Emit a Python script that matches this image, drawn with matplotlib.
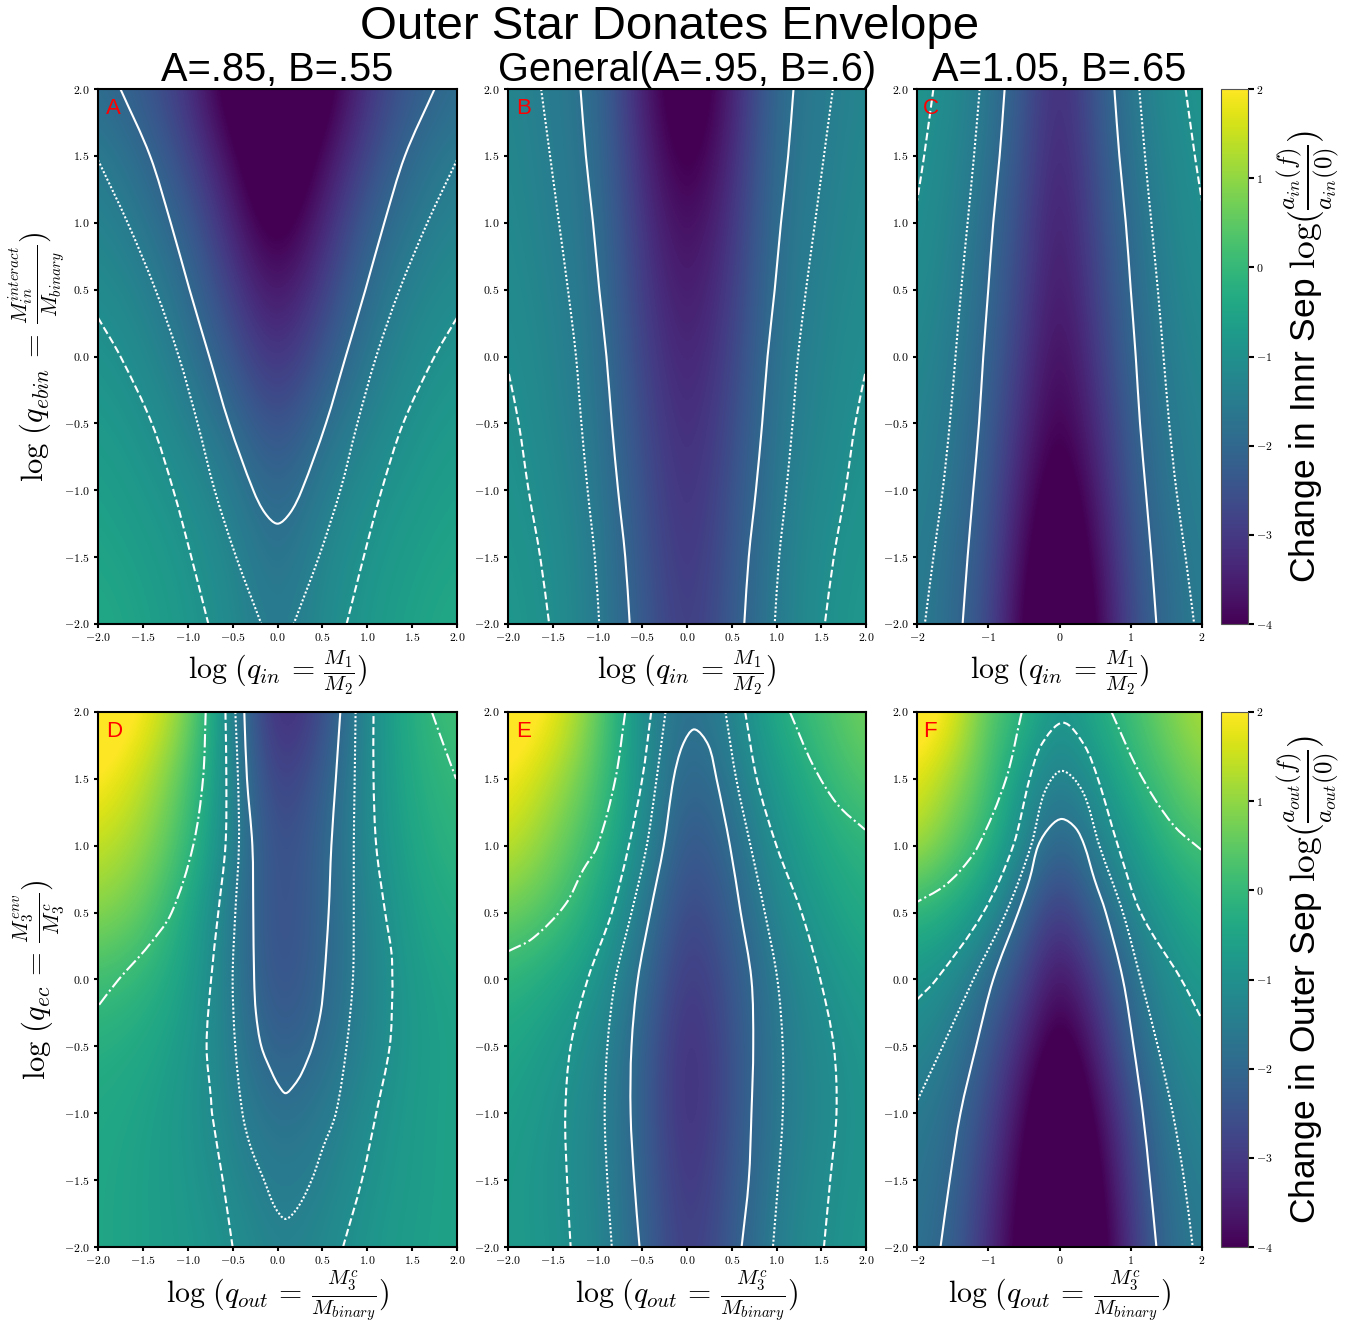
import numpy as np
import matplotlib
matplotlib.use("Agg")
import matplotlib.pyplot as plt
from matplotlib.cm import ScalarMappable
from matplotlib.colors import Normalize
from matplotlib.patches import PathPatch
from matplotlib.path import Path

plt.rcParams['font.family'] = ['Liberation Sans', 'DejaVu Sans']
plt.rcParams['mathtext.fontset'] = 'cm'

W, H = 1352, 1325

y_ticks = [-2.0, -1.5, -1.0, -0.5, 0.0, 0.5, 1.0, 1.5, 2.0]
fine_labels = ['$-2.0$', '$-1.5$', '$-1.0$', '$-0.5$', '$0.0$', '$0.5$', '$1.0$', '$1.5$', '$2.0$']
coarse_ticks = [-2, -1, 0, 1, 2]
coarse_labels = ['$-2$', '$-1$', '$0$', '$1$', '$2$']
cbar_ticks = [-4, -3, -2, -1, 0, 1, 2]
cbar_labels = ['$-4$', '$-3$', '$-2$', '$-1$', '$0$', '$1$', '$2$']

# heat values, rows run y=2 -> y=-2, columns x=-2 -> x=0 (top row panels are mirrored)
a_half = [[-1.85, -2.3, -3.1, -4.5, -5.0],
          [-1.5, -1.9, -2.7, -3.9, -4.9],
          [-1.3, -1.6, -2.2, -3.4, -4.5],
          [-1.1, -1.35, -1.85, -2.9, -3.85],
          [-0.9, -1.15, -1.6, -2.4, -3.3],
          [-0.75, -0.95, -1.35, -1.85, -2.7],
          [-0.6, -0.8, -1.05, -1.5, -2.15],
          [-0.5, -0.65, -0.9, -1.25, -1.85],
          [-0.4, -0.55, -0.8, -1.15, -1.65]]
b_half = [[-1.25, -1.52, -1.85, -3.5, -4.7],
          [-1.2, -1.47, -1.8, -3.3, -4.4],
          [-1.15, -1.42, -1.75, -3.1, -4.0],
          [-1.1, -1.35, -1.7, -2.95, -3.75],
          [-1.03, -1.3, -1.65, -2.8, -3.55],
          [-0.95, -1.25, -1.6, -2.65, -3.4],
          [-0.9, -1.15, -1.55, -2.5, -3.3],
          [-0.85, -1.05, -1.5, -2.4, -3.2],
          [-0.8, -1.0, -1.5, -2.3, -3.1]]
c_half = [[-0.85, -1.15, -1.6, -2.4, -3.4],
          [-0.95, -1.25, -1.7, -2.55, -3.5],
          [-1.02, -1.32, -1.85, -2.7, -3.65],
          [-1.1, -1.4, -1.95, -2.85, -3.75],
          [-1.2, -1.5, -2.05, -3.05, -3.95],
          [-1.28, -1.6, -2.2, -3.3, -4.15],
          [-1.35, -1.7, -2.35, -3.6, -4.5],
          [-1.43, -1.85, -2.5, -3.9, -4.8],
          [-1.5, -1.9, -2.65, -4.15, -5.0]]
# bottom row is not symmetric, columns x=-2 -> x=2
d_vals = [[2.5, 2.1, 0.9, -1.35, -3.6, -2.7, -1.15, -0.2, 0.2],
          [2.1, 1.45, 0.35, -1.25, -3.1, -2.25, -1.15, -0.3, 0.0],
          [1.5, 1.05, 0.1, -1.35, -2.75, -2.1, -1.15, -0.45, -0.1],
          [0.95, 0.55, -0.4, -1.55, -2.7, -2.1, -1.3, -0.6, -0.3],
          [0.15, -0.05, -0.6, -1.5, -2.65, -2.05, -1.35, -0.7, -0.5],
          [-0.25, -0.4, -0.75, -1.45, -2.3, -1.9, -1.3, -0.75, -0.55],
          [-0.4, -0.55, -0.85, -1.35, -1.85, -1.6, -1.1, -0.7, -0.55],
          [-0.45, -0.6, -0.8, -1.2, -1.6, -1.4, -0.95, -0.7, -0.55],
          [-0.45, -0.6, -0.75, -1.0, -1.4, -1.2, -0.85, -0.65, -0.55]]
e_vals = [[2.5, 2.0, 0.65, -1.15, -1.9, -1.3, -0.3, 0.25, 0.75],
          [2.0, 1.3, 0.35, -1.0, -2.2, -1.6, -0.7, -0.1, 0.45],
          [1.5, 0.8, 0.0, -1.1, -2.6, -1.9, -1.0, -0.4, -0.1],
          [0.7, 0.3, -0.4, -1.55, -2.9, -2.2, -1.25, -0.7, -0.3],
          [-0.1, -0.4, -0.85, -1.85, -3.2, -2.4, -1.5, -1.0, -0.6],
          [-0.45, -0.75, -1.15, -2.1, -3.4, -2.5, -1.55, -1.15, -0.8],
          [-0.6, -0.9, -1.25, -2.15, -3.4, -2.5, -1.55, -1.2, -0.85],
          [-0.7, -0.95, -1.25, -2.1, -3.25, -2.4, -1.5, -1.1, -0.85],
          [-0.7, -0.9, -1.2, -2.05, -3.1, -2.3, -1.4, -1.05, -0.8]]
f_vals = [[2.5, 1.9, 0.45, -0.05, -0.95, -0.35, 0.15, 0.8, 1.3],
          [1.8, 1.1, 0.3, -0.9, -1.45, -0.95, -0.2, 0.3, 0.85],
          [1.25, 0.55, -0.1, -1.2, -2.2, -1.45, -0.8, -0.1, 0.2],
          [-0.1, -0.35, -0.95, -2.15, -3.1, -2.15, -1.3, -0.75, -0.3],
          [-0.85, -1.15, -1.9, -2.75, -3.9, -2.9, -1.85, -1.1, -0.75],
          [-1.2, -1.6, -2.35, -3.4, -4.5, -3.5, -2.1, -1.35, -1.05],
          [-1.55, -1.85, -2.7, -3.9, -5.0, -4.0, -2.6, -1.6, -1.25],
          [-1.65, -2.0, -3.0, -4.2, -5.0, -4.4, -2.85, -1.8, -1.4],
          [-1.75, -2.15, -3.2, -4.4, -5.0, -4.6, -3.1, -1.9, -1.55]]

# contour lines, x then y
a_solid_x = [-1.75, -1.42, -1.19, -0.98, -0.76, -0.54, -0.27, -0.14, 0.0]
a_solid_y = [2.0, 1.5, 1.0, 0.5, 0.0, -0.5, -1.0, -1.17, -1.25]
a_dot_x = [-2.0, -1.67, -1.36, -1.1, -0.89, -0.7, -0.46, -0.18]
a_dot_y = [1.47, 1.0, 0.5, 0.0, -0.5, -1.0, -1.5, -2.0]
a_dash_x = [-2.0, -1.75, -1.4, -1.16, -0.96, -0.77]
a_dash_y = [0.29, 0.0, -0.5, -1.0, -1.5, -2.0]

row_y = [2.0, 1.5, 1.0, 0.5, 0.0, -0.5, -1.0, -1.5, -2.0]
b_solid_x = [-1.19, -1.13, -1.05, -0.98, -0.9, -0.84, -0.77, -0.69, -0.64]
b_dot_x = [-1.63, -1.53, -1.43, -1.33, -1.24, -1.18, -1.11, -1.03, -0.98]
b_dash_x = [-1.99, -1.88, -1.77, -1.64, -1.54]
b_dash_y = [-0.13, -0.5, -1.0, -1.5, -2.0]
c_solid_x = [-0.77, -0.84, -0.93, -1.0, -1.07, -1.13, -1.21, -1.29, -1.36]
c_dot_x = [-1.12, -1.2, -1.29, -1.38, -1.46, -1.54, -1.64, -1.77, -1.89]
c_dash_x = [-1.77, -1.9, -2.0]
c_dash_y = [2.0, 1.5, 1.16]

d_solid_x = [-0.37, -0.34, -0.28, -0.27, -0.26, -0.24, -0.18, -0.06, 0.01, 0.09, 0.185, 0.27, 0.39, 0.48, 0.52, 0.57, 0.6, 0.65, 0.7]
d_solid_y = [2.0, 1.5, 1.0, 0.5, 0.0, -0.25, -0.5, -0.7, -0.79, -0.85, -0.79, -0.7, -0.5, -0.25, 0.0, 0.5, 1.0, 1.5, 2.0]
d_dot_x = [-0.47, -0.44, -0.43, -0.47, -0.5, -0.47, -0.39, -0.3, -0.15, -0.03, 0.09, 0.23, 0.38, 0.51, 0.65, 0.77, 0.84, 0.85, 0.85, 0.86, 0.87]
d_dot_y = [2.0, 1.5, 1.0, 0.5, 0.0, -0.5, -1.0, -1.25, -1.5, -1.7, -1.79, -1.7, -1.5, -1.25, -1.0, -0.5, 0.0, 0.5, 1.0, 1.5, 2.0]
d_dash_lx = [-0.58, -0.57, -0.58, -0.66, -0.74, -0.79, -0.74, -0.73, -0.61, -0.5]
d_dash_ly = [2.0, 1.5, 1.0, 0.5, 0.0, -0.5, -0.9, -1.0, -1.5, -2.0]
d_dash_rx = [0.73, 0.94, 1.1, 1.25, 1.28, 1.28, 1.27, 1.2, 1.1, 1.07, 1.07]
d_dash_ry = [-2.0, -1.5, -1.0, -0.5, -0.1, 0.0, 0.2, 0.5, 1.0, 1.5, 2.0]
d_dd_lx = [-0.8, -0.83, -0.94, -1.18, -1.44, -1.77, -2.0]
d_dd_ly = [2.0, 1.5, 1.0, 0.5, 0.25, 0.0, -0.2]
d_dd_rx = [1.72, 1.81, 1.99]
d_dd_ry = [2.0, 1.83, 1.5]

e_solid_x = [-0.53, -0.59, -0.63, -0.62, -0.55, -0.41, -0.26, -0.15, -0.05, 0.08, 0.24, 0.33, 0.48, 0.6, 0.72, 0.74, 0.72, 0.69, 0.61]
e_solid_y = [-2.0, -1.5, -1.0, -0.5, 0.0, 0.5, 1.0, 1.5, 1.75, 1.87, 1.75, 1.5, 1.0, 0.5, 0.0, -0.5, -1.0, -1.5, -2.0]
e_dot_lx = [-0.24, -0.34, -0.45, -0.62, -0.8, -0.89, -0.92, -0.89, -0.84]
e_dot_rx = [0.43, 0.55, 0.71, 0.87, 1.01, 1.07, 1.07, 1.02, 0.96]
e_dash_lx = [-0.4, -0.5, -0.65, -0.84, -1.11, -1.3, -1.36, -1.34, -1.3]
e_dash_rx = [0.65, 0.78, 1.0, 1.28, 1.49, 1.64, 1.67, 1.6, 1.53]
e_dd_lx = [-0.69, -0.8, -1.0, -1.16, -1.36, -1.72, -2.0]
e_dd_ly = [2.0, 1.5, 1.0, 0.82, 0.56, 0.31, 0.21]
e_dd_rx = [1.15, 1.41, 1.68, 1.99]
e_dd_ry = [2.0, 1.6, 1.31, 1.12]

f_solid_x = [-1.67, -1.54, -1.39, -1.17, -0.93, -0.58, -0.42, -0.3, -0.12, 0.04, 0.23, 0.35, 0.49, 0.65, 0.89, 1.04, 1.17, 1.27, 1.36]
f_solid_y = [-2.0, -1.5, -1.0, -0.5, 0.0, 0.5, 0.75, 1.0, 1.15, 1.2, 1.13, 1.0, 0.75, 0.5, 0.0, -0.5, -1.0, -1.5, -2.0]
f_dot_x = [-1.99, -1.64, -1.21, -0.75, -0.4, -0.21, 0.03, 0.33, 0.56, 0.89, 1.14, 1.38, 1.59, 1.75, 1.87]
f_dot_y = [-0.9, -0.5, 0.0, 0.5, 1.0, 1.4, 1.56, 1.4, 1.0, 0.5, 0.0, -0.5, -1.0, -1.5, -2.0]
f_dash_x = [-2.0, -1.73, -1.07, -0.65, -0.42, -0.26, 0.05, 0.35, 0.54, 0.82, 1.14, 1.71, 1.99]
f_dash_y = [-0.15, 0.0, 0.5, 1.0, 1.5, 1.75, 1.92, 1.75, 1.5, 1.0, 0.5, 0.0, -0.29]
f_dd_lx = [-0.53, -0.75, -1.14, -1.4, -1.64, -2.0]
f_dd_ly = [2.0, 1.5, 1.0, 0.81, 0.69, 0.58]
f_dd_rx = [0.73, 1.07, 1.36, 1.64, 1.99]
f_dd_ry = [2.0, 1.6, 1.33, 1.13, 0.97]


def px_axes(fig, left, top, right, bottom):
    return fig.add_axes([left / W, 1 - bottom / H, (right - left) / W, (bottom - top) / H])


def mirror(half):
    half = np.array(half)
    return np.hstack([half, half[:, -2::-1]])


def draw_panel(ax, vals, letter, title=None, coarse=False):
    ax.imshow(vals, cmap="viridis", vmin=-4, vmax=2, aspect="auto",
              extent=[-2.25, 2.25, -2.25, 2.25], interpolation="bicubic")
    ax.set_xlim(-2, 2)
    ax.set_ylim(-2, 2)
    ax.set_yticks(y_ticks)
    ax.set_yticklabels(fine_labels)
    if coarse:
        ax.set_xticks(coarse_ticks)
        ax.set_xticklabels(coarse_labels)
    else:
        ax.set_xticks(y_ticks)
        ax.set_xticklabels(fine_labels)
    ax.tick_params(labelsize=8.5, width=1.5, length=3, pad=3)
    for s in ax.spines.values():
        s.set_linewidth(1.5)
    ax.text(0.022, 0.963, letter, color="red", fontsize=16, transform=ax.transAxes,
            ha="left", va="center")
    if title:
        ax.set_title(title, fontsize=28.6, pad=4)


def contour_line(ax, xs, ys, ls):
    # smooth curve through the read vertices, as bezier segments
    pts = np.column_stack([xs, ys]).astype(float)
    d = np.maximum(np.hypot(*np.diff(pts, axis=0).T), 1e-6)
    tan = np.zeros_like(pts)
    tan[1:-1] = (pts[2:] - pts[:-2]) / (d[1:] + d[:-1])[:, None]
    tan[0] = (pts[1] - pts[0]) / d[0]
    tan[-1] = (pts[-1] - pts[-2]) / d[-1]
    verts = [pts[0]]
    for i in range(len(d)):
        verts += [pts[i] + tan[i] * d[i] / 3, pts[i + 1] - tan[i + 1] * d[i] / 3, pts[i + 1]]
    codes = [Path.MOVETO] + [Path.CURVE4] * (len(verts) - 1)
    ax.add_patch(PathPatch(Path(verts, codes), fill=False, edgecolor="white", lw=1.5, ls=ls))


DOT = (0, (1, 1))

fig = plt.figure(figsize=(W / 100, H / 100), dpi=100)

ax_a = px_axes(fig, 98, 89, 457, 624)
ax_b = px_axes(fig, 508, 89, 866, 624)
ax_c = px_axes(fig, 917, 89, 1202, 624)
ax_d = px_axes(fig, 98, 712, 457, 1247)
ax_e = px_axes(fig, 508, 712, 866, 1247)
ax_f = px_axes(fig, 917, 712, 1202, 1247)

draw_panel(ax_a, mirror(a_half), "A", "A=.85, B=.55")
draw_panel(ax_b, mirror(b_half), "B", "General(A=.95, B=.6)")
draw_panel(ax_c, mirror(c_half), "C", "A=1.05, B=.65", coarse=True)
draw_panel(ax_d, np.array(d_vals), "D")
draw_panel(ax_e, np.array(e_vals), "E")
draw_panel(ax_f, np.array(f_vals), "F", coarse=True)

# top row contours are symmetric about x=0
sx = np.array(a_solid_x)
contour_line(ax_a, np.r_[sx, -sx[-2::-1]], a_solid_y + a_solid_y[-2::-1], "-")
for sign in (1, -1):
    contour_line(ax_a, sign * np.array(a_dot_x), a_dot_y, DOT)
    contour_line(ax_a, sign * np.array(a_dash_x), a_dash_y, "--")
    contour_line(ax_b, sign * np.array(b_solid_x), row_y, "-")
    contour_line(ax_b, sign * np.array(b_dot_x), row_y, DOT)
    contour_line(ax_b, sign * np.array(b_dash_x), b_dash_y, "--")
    contour_line(ax_c, sign * np.array(c_solid_x), row_y, "-")
    contour_line(ax_c, sign * np.array(c_dot_x), row_y, DOT)
    contour_line(ax_c, sign * np.array(c_dash_x), c_dash_y, "--")

contour_line(ax_d, d_solid_x, d_solid_y, "-")
contour_line(ax_d, d_dot_x, d_dot_y, DOT)
contour_line(ax_d, d_dash_lx, d_dash_ly, "--")
contour_line(ax_d, d_dash_rx, d_dash_ry, "--")
contour_line(ax_d, d_dd_lx, d_dd_ly, "-.")
contour_line(ax_d, d_dd_rx, d_dd_ry, "-.")

contour_line(ax_e, e_solid_x, e_solid_y, "-")
contour_line(ax_e, e_dot_lx, row_y, DOT)
contour_line(ax_e, e_dot_rx, row_y, DOT)
contour_line(ax_e, e_dash_lx, row_y, "--")
contour_line(ax_e, e_dash_rx, row_y, "--")
contour_line(ax_e, e_dd_lx, e_dd_ly, "-.")
contour_line(ax_e, e_dd_rx, e_dd_ry, "-.")

contour_line(ax_f, f_solid_x, f_solid_y, "-")
contour_line(ax_f, f_dot_x, f_dot_y, DOT)
contour_line(ax_f, f_dash_x, f_dash_y, "--")
contour_line(ax_f, f_dd_lx, f_dd_ly, "-.")
contour_line(ax_f, f_dd_rx, f_dd_ry, "-.")

for ax in (ax_a, ax_b, ax_c):
    ax.set_xlabel(r"$\log\,(q_{in}\,=\,\frac{M_1}{M_2})$", fontsize=21.5, labelpad=3)
for ax in (ax_d, ax_e, ax_f):
    ax.set_xlabel(r"$\log\,(q_{out}\,=\,\frac{M_3^c}{M_{binary}})$", fontsize=21.5, labelpad=1)
ax_a.set_ylabel(r"$\log\,(q_{ebin}\,=\,\frac{M_{in}^{interact}}{M_{binary}})$", fontsize=22, labelpad=-2)
ax_d.set_ylabel(r"$\log\,(q_{ec}\,=\,\frac{M_3^{env}}{M_3^c})$", fontsize=22, labelpad=-2)

norm = Normalize(vmin=-4, vmax=2)
for top, bottom, label in [
    (89, 624, r"Change in Innr Sep $\log(\frac{a_{in}(f)}{a_{in}(0)})$"),
    (712, 1247, r"Change in Outer Sep $\log(\frac{a_{out}(f)}{a_{out}(0)})$"),
]:
    cax = px_axes(fig, 1221, top, 1248, bottom)
    cb = fig.colorbar(ScalarMappable(norm=norm, cmap="viridis"), cax=cax)
    cb.set_ticks(cbar_ticks)
    cb.set_ticklabels(cbar_labels)
    cb.ax.tick_params(labelsize=8.5, width=1.5, length=4, pad=2)
    cb.outline.set_linewidth(0.8)
    cb.outline.set_edgecolor("#555555")
    cb.set_label(label, fontsize=25.5, labelpad=1)

fig.text(670 / W, 1 - 27 / H, "Outer Star Donates Envelope", fontsize=34.1, ha="center", va="center")

fig.savefig("out.png", dpi=100)
